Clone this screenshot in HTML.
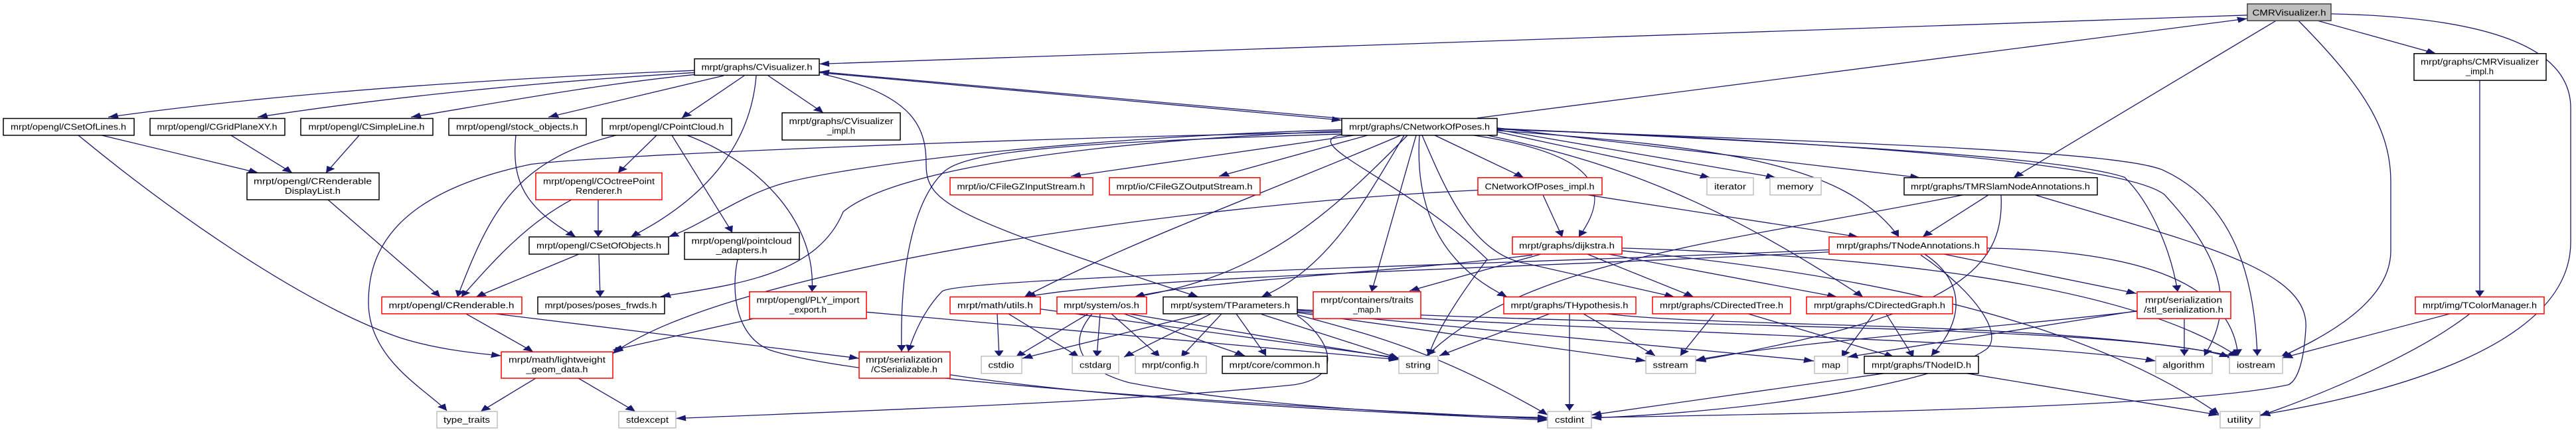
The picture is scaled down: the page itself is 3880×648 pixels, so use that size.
<!DOCTYPE html>
<html><head><meta charset="utf-8"><style>
html,body{margin:0;padding:0;background:#fff;overflow:hidden;}
svg{display:block;}
text{font-family:"Liberation Sans","DejaVu Sans",sans-serif;font-size:20px;fill:#000;}
.e{fill:none;stroke:#191970;stroke-width:1.3;marker-end:url(#a);vector-effect:non-scaling-stroke;}
.n{fill:#fff;stroke:#000;stroke-width:1.5;vector-effect:non-scaling-stroke;}
.r{fill:#fff;stroke:#ff0000;stroke-width:1.5;vector-effect:non-scaling-stroke;}
.g{fill:#fff;stroke:#bfbfbf;stroke-width:1.5;vector-effect:non-scaling-stroke;}
</style></head><body>
<svg width="3880" height="648" viewBox="0 0 3880 648" xmlns="http://www.w3.org/2000/svg">
<defs><marker id="a" markerUnits="userSpaceOnUse" markerWidth="16" markerHeight="14" refX="15" refY="7" orient="auto"><path d="M0,0 L15,7 L0,14 z" fill="#191970"/></marker></defs>
<g transform="scale(1,0.6514)">
<g>
<path class="e" d="M3385,35 L1234,148"/>
<path class="e" d="M2225,273 L3385,43"/>
<path class="e" d="M3428,48 L3033,411"/>
<path class="e" d="M3462,48 C3560,200 3601,300 3601,420 L3601,580 C3601,700 3500,780 3435,826"/>
<path class="e" d="M3491,48 L3669,124"/>
<path class="e" d="M3511,32 C3750,40 3872,110 3872,250 L3872,560 C3872,800 3600,910 3404,960"/>
<path class="e" d="M3735,186 L3735,687"/>
<path class="e" d="M3690,726 L3438,828"/>
<path class="e" d="M3720,726 C3650,810 3520,900 3404,962"/>
<path class="e" d="M1046,163 C700,185 400,220 163,271"/>
<path class="e" d="M1046,168 C800,190 560,230 388,271"/>
<path class="e" d="M1050,172 C900,195 760,235 619,271"/>
<path class="e" d="M1090,175 L826,271"/>
<path class="e" d="M1121,175 L1027,273"/>
<path class="e" d="M1157,175 L1240,261"/>
<path class="e" d="M1139,175 C1130,350 1050,470 950,548"/>
<path class="e" d="M1234,168 L2021,278"/>
<path class="e" d="M2021,274 L1234,166"/>
<path class="e" d="M1240,172 C1380,220 1395,300 1395,380 C1395,470 1430,500 1805,687"/>
<path class="e" d="M153,313 L389,400"/>
<path class="e" d="M118,313 C250,480 450,700 600,780 C650,805 700,815 755,823"/>
<path class="e" d="M348,313 L440,400"/>
<path class="e" d="M541,313 L491,400"/>
<path class="e" d="M777,313 C770,420 790,480 867,548"/>
<path class="e" d="M928,313 C780,370 740,480 689,687"/>
<path class="e" d="M989,313 L931,400"/>
<path class="e" d="M1012,313 L1103,538"/>
<path class="e" d="M1035,313 C1150,380 1230,520 1223,675"/>
<path class="e" d="M901,462 L901,548"/>
<path class="e" d="M861,462 C790,520 740,610 695,687"/>
<path class="e" d="M494,462 L663,687"/>
<path class="e" d="M872,588 L717,687"/>
<path class="e" d="M902,588 L904,687"/>
<path class="e" d="M702,726 L803,814"/>
<path class="e" d="M746,726 L1294,829"/>
<path class="e" d="M807,875 L724,952"/>
<path class="e" d="M871,875 L957,952"/>
<path class="e" d="M1111,600 C1100,680 1110,780 1160,810 C1300,880 1900,940 2331,969"/>
<path class="e" d="M1135,737 L923,810"/>
<path class="e" d="M1305,722 L2107,832"/>
<path class="e" d="M1431,867 C1700,930 2100,955 2331,972"/>
<path class="e" d="M2021,300 C1600,320 1300,380 1190,420 C1120,445 1060,520 1007,548"/>
<path class="e" d="M2021,303 C1600,330 1340,400 1270,490 C1230,640 1100,660 995,686"/>
<path class="e" d="M2021,306 C1500,320 900,360 800,380 C580,450 555,600 555,700 C555,830 640,900 673,950"/>
<path class="e" d="M2040,313 L1613,408"/>
<path class="e" d="M2060,313 L1836,408"/>
<path class="e" d="M2110,313 C1900,450 1700,560 1543,687"/>
<path class="e" d="M2120,313 C2000,500 1900,640 1709,687"/>
<path class="e" d="M2021,310 C1600,330 1450,350 1420,400 C1380,460 1355,600 1358,813"/>
<path class="e" d="M2115,313 C2050,480 2000,620 1900,687"/>
<path class="e" d="M2133,313 L2066,675"/>
<path class="e" d="M2138,313 C2130,500 2180,620 2270,687"/>
<path class="e" d="M2142,313 C2180,450 2220,590 2300,610 L2522,687"/>
<path class="e" d="M2161,313 L2295,411"/>
<path class="e" d="M2219,313 C2380,350 2440,420 2378,548"/>
<path class="e" d="M2240,313 C2450,380 2600,480 2806,687"/>
<path class="e" d="M2255,305 L2576,411"/>
<path class="e" d="M2255,300 L2675,411"/>
<path class="e" d="M2255,296 L2892,411"/>
<path class="e" d="M2255,302 C2600,340 2780,380 2860,548"/>
<path class="e" d="M2255,297 C2700,330 3100,360 3200,410 C3240,470 3270,580 3280,675"/>
<path class="e" d="M2255,298 C2800,330 3200,380 3260,450 C3320,550 3380,680 3320,823"/>
<path class="e" d="M2255,299 C2800,330 3200,350 3260,395 C3350,460 3395,600 3400,823"/>
<path class="e" d="M2021,312 C1950,330 2120,420 2240,600 C2190,700 2160,780 2152,823"/>
<path class="e" d="M2226,440 C1800,470 1100,620 923,818"/>
<path class="e" d="M2324,451 L2353,548"/>
<path class="e" d="M2391,451 L2799,548"/>
<path class="e" d="M2995,451 L2896,548"/>
<path class="e" d="M2957,451 C2600,560 2300,600 2149,823"/>
<path class="e" d="M3014,451 C3020,620 2950,730 2554,835"/>
<path class="e" d="M3065,451 C3300,560 3480,620 3473,760 C3470,840 3460,880 3447,890 C3300,940 2800,955 2397,966"/>
<path class="e" d="M2928,588 L3218,679"/>
<path class="e" d="M2993,574 C3200,580 3360,640 3371,823"/>
<path class="e" d="M2899,588 C2960,650 2960,740 2909,823"/>
<path class="e" d="M2893,590 C2980,680 3020,780 2990,810 C2900,900 2600,955 2397,967"/>
<path class="e" d="M2755,578 C2300,610 1450,640 1419,674 C1390,720 1375,780 1368,813"/>
<path class="e" d="M2755,583 C2300,620 1700,640 1545,687"/>
<path class="e" d="M2321,588 L2123,673"/>
<path class="e" d="M2308,590 C2100,630 1800,650 1709,687"/>
<path class="e" d="M2391,588 L2551,687"/>
<path class="e" d="M2423,588 L2767,687"/>
<path class="e" d="M2443,574 C2800,590 3200,650 3371,825"/>
<path class="e" d="M2443,580 C2700,620 3100,700 3342,958"/>
<path class="e" d="M2334,726 L2168,823"/>
<path class="e" d="M2364,726 L2364,950"/>
<path class="e" d="M2385,726 L2493,823"/>
<path class="e" d="M2420,726 C2600,760 3100,740 3371,826"/>
<path class="e" d="M2582,726 L2531,823"/>
<path class="e" d="M2633,726 L2853,826"/>
<path class="e" d="M2822,726 L2774,826"/>
<path class="e" d="M2841,726 L2882,826"/>
<path class="e" d="M2837,864 L2397,960"/>
<path class="e" d="M2963,864 L3342,960"/>
<path class="e" d="M3290,737 L3290,823"/>
<path class="e" d="M3219,719 L2783,826"/>
<path class="e" d="M1502,726 L1505,826"/>
<path class="e" d="M1519,726 L1625,826"/>
<path class="e" d="M1567,715 L2107,828"/>
<path class="e" d="M1639,726 L1530,826"/>
<path class="e" d="M1657,726 L1652,826"/>
<path class="e" d="M1674,726 L1747,826"/>
<path class="e" d="M1693,726 L1875,823"/>
<path class="e" d="M1645,726 C1610,790 1620,850 1700,885 C1850,930 2100,960 2331,966"/>
<path class="e" d="M1700,726 L2107,830"/>
<path class="e" d="M1811,726 L1540,829"/>
<path class="e" d="M1824,726 L1693,826"/>
<path class="e" d="M1840,726 L1779,826"/>
<path class="e" d="M1862,726 L1907,823"/>
<path class="e" d="M1954,730 C2000,780 2030,870 1950,890 C1700,930 1300,950 1018,968"/>
<path class="e" d="M1900,727 L2107,829"/>
<path class="e" d="M1954,723 L2479,835"/>
<path class="e" d="M1954,721 L2732,835"/>
<path class="e" d="M1954,718 C2400,770 3000,780 3247,835"/>
<path class="e" d="M1954,716 C2500,760 3200,750 3358,826"/>
<path class="e" d="M1954,728 C2050,770 2150,800 2331,960"/>
<path class="e" d="M3219,720 C3000,760 2700,790 2554,833"/>
</g>
<g>
<rect x="3385" y="9" width="126" height="39" fill="#bfbfbf" stroke="#404040" stroke-width="1.5" vector-effect="non-scaling-stroke"/>
<text x="3448" y="36" text-anchor="middle" textLength="111" lengthAdjust="spacingAndGlyphs">CMRVisualizer.h</text>
<rect class="n" x="1046" y="136" width="188" height="38"/><text x="1140" y="162" text-anchor="middle" textLength="167" lengthAdjust="spacingAndGlyphs">mrpt/graphs/CVisualizer.h</text>
<rect class="n" x="5" y="274" width="197" height="39"/><text x="103" y="300" text-anchor="middle" textLength="174" lengthAdjust="spacingAndGlyphs">mrpt/opengl/CSetOfLines.h</text>
<rect class="n" x="226" y="274" width="203" height="39"/><text x="327" y="300" text-anchor="middle" textLength="181" lengthAdjust="spacingAndGlyphs">mrpt/opengl/CGridPlaneXY.h</text>
<rect class="n" x="453" y="274" width="199" height="39"/><text x="552" y="300" text-anchor="middle" textLength="175" lengthAdjust="spacingAndGlyphs">mrpt/opengl/CSimpleLine.h</text>
<rect class="n" x="676" y="274" width="207" height="39"/><text x="779" y="300" text-anchor="middle" textLength="184" lengthAdjust="spacingAndGlyphs">mrpt/opengl/stock_objects.h</text>
<rect class="n" x="907" y="274" width="195" height="39"/><text x="1004" y="300" text-anchor="middle" textLength="173" lengthAdjust="spacingAndGlyphs">mrpt/opengl/CPointCloud.h</text>
<rect class="n" x="1178" y="261" width="178" height="63"/><text x="1267" y="287" text-anchor="middle" textLength="157" lengthAdjust="spacingAndGlyphs">mrpt/graphs/CVisualizer</text><text x="1267" y="309" text-anchor="middle" textLength="42" lengthAdjust="spacingAndGlyphs">_impl.h</text>
<rect class="n" x="2021" y="274" width="234" height="39"/><text x="2138" y="300" text-anchor="middle" textLength="212" lengthAdjust="spacingAndGlyphs">mrpt/graphs/CNetworkOfPoses.h</text>
<rect class="n" x="3636" y="124" width="199" height="62"/><text x="3735" y="150" text-anchor="middle" textLength="178" lengthAdjust="spacingAndGlyphs">mrpt/graphs/CMRVisualizer</text><text x="3735" y="172" text-anchor="middle" textLength="42" lengthAdjust="spacingAndGlyphs">_impl.h</text>
<rect class="n" x="372" y="400" width="199" height="62"/><text x="471" y="426" text-anchor="middle" textLength="178" lengthAdjust="spacingAndGlyphs">mrpt/opengl/CRenderable</text><text x="471" y="448" text-anchor="middle" textLength="84" lengthAdjust="spacingAndGlyphs">DisplayList.h</text>
<rect class="r" x="807" y="400" width="190" height="62"/><text x="902" y="426" text-anchor="middle" textLength="168" lengthAdjust="spacingAndGlyphs">mrpt/opengl/COctreePoint</text><text x="902" y="448" text-anchor="middle" textLength="70" lengthAdjust="spacingAndGlyphs">Renderer.h</text>
<rect class="r" x="1431" y="411" width="215" height="40"/><text x="1538" y="438" text-anchor="middle" textLength="193" lengthAdjust="spacingAndGlyphs">mrpt/io/CFileGZInputStream.h</text>
<rect class="r" x="1671" y="411" width="227" height="40"/><text x="1784" y="438" text-anchor="middle" textLength="205" lengthAdjust="spacingAndGlyphs">mrpt/io/CFileGZOutputStream.h</text>
<rect class="r" x="2226" y="411" width="187" height="40"/><text x="2319" y="438" text-anchor="middle" textLength="165" lengthAdjust="spacingAndGlyphs">CNetworkOfPoses_impl.h</text>
<rect class="g" x="2571" y="411" width="70" height="40"/><text x="2606" y="438" text-anchor="middle" textLength="48" lengthAdjust="spacingAndGlyphs">iterator</text>
<rect class="g" x="2666" y="411" width="77" height="40"/><text x="2704" y="438" text-anchor="middle" textLength="55" lengthAdjust="spacingAndGlyphs">memory</text>
<rect class="n" x="2868" y="411" width="291" height="40"/><text x="3013" y="438" text-anchor="middle" textLength="270" lengthAdjust="spacingAndGlyphs">mrpt/graphs/TMRSlamNodeAnnotations.h</text>
<rect class="n" x="797" y="548" width="210" height="40"/><text x="902" y="575" text-anchor="middle" textLength="188" lengthAdjust="spacingAndGlyphs">mrpt/opengl/CSetOfObjects.h</text>
<rect class="n" x="1031" y="538" width="173" height="62"/><text x="1117" y="564" text-anchor="middle" textLength="151" lengthAdjust="spacingAndGlyphs">mrpt/opengl/pointcloud</text><text x="1117" y="586" text-anchor="middle" textLength="77" lengthAdjust="spacingAndGlyphs">_adapters.h</text>
<rect class="r" x="2278" y="548" width="165" height="40"/><text x="2360" y="575" text-anchor="middle" textLength="144" lengthAdjust="spacingAndGlyphs">mrpt/graphs/dijkstra.h</text>
<rect class="r" x="2755" y="548" width="238" height="40"/><text x="2874" y="575" text-anchor="middle" textLength="216" lengthAdjust="spacingAndGlyphs">mrpt/graphs/TNodeAnnotations.h</text>
<rect class="r" x="575" y="687" width="211" height="39"/><text x="680" y="713" text-anchor="middle" textLength="189" lengthAdjust="spacingAndGlyphs">mrpt/opengl/CRenderable.h</text>
<rect class="n" x="810" y="687" width="191" height="39"/><text x="905" y="713" text-anchor="middle" textLength="169" lengthAdjust="spacingAndGlyphs">mrpt/poses/poses_frwds.h</text>
<rect class="r" x="1129" y="675" width="176" height="62"/><text x="1217" y="701" text-anchor="middle" textLength="155" lengthAdjust="spacingAndGlyphs">mrpt/opengl/PLY_import</text><text x="1217" y="723" text-anchor="middle" textLength="56" lengthAdjust="spacingAndGlyphs">_export.h</text>
<rect class="r" x="1431" y="687" width="136" height="39"/><text x="1499" y="713" text-anchor="middle" textLength="114" lengthAdjust="spacingAndGlyphs">mrpt/math/utils.h</text>
<rect class="r" x="1592" y="687" width="135" height="39"/><text x="1659" y="713" text-anchor="middle" textLength="114" lengthAdjust="spacingAndGlyphs">mrpt/system/os.h</text>
<rect class="n" x="1752" y="687" width="202" height="39"/><text x="1853" y="713" text-anchor="middle" textLength="180" lengthAdjust="spacingAndGlyphs">mrpt/system/TParameters.h</text>
<rect class="r" x="1978" y="675" width="162" height="62"/><text x="2059" y="701" text-anchor="middle" textLength="140" lengthAdjust="spacingAndGlyphs">mrpt/containers/traits</text><text x="2059" y="723" text-anchor="middle" textLength="42" lengthAdjust="spacingAndGlyphs">_map.h</text>
<rect class="r" x="2265" y="687" width="199" height="39"/><text x="2364" y="713" text-anchor="middle" textLength="177" lengthAdjust="spacingAndGlyphs">mrpt/graphs/THypothesis.h</text>
<rect class="r" x="2489" y="687" width="208" height="39"/><text x="2593" y="713" text-anchor="middle" textLength="186" lengthAdjust="spacingAndGlyphs">mrpt/graphs/CDirectedTree.h</text>
<rect class="r" x="2721" y="687" width="220" height="39"/><text x="2831" y="713" text-anchor="middle" textLength="198" lengthAdjust="spacingAndGlyphs">mrpt/graphs/CDirectedGraph.h</text>
<rect class="r" x="3219" y="675" width="141" height="62"/><text x="3289" y="701" text-anchor="middle" textLength="116" lengthAdjust="spacingAndGlyphs">mrpt/serialization</text><text x="3289" y="723" text-anchor="middle" textLength="120" lengthAdjust="spacingAndGlyphs">/stl_serialization.h</text>
<rect class="r" x="3638" y="687" width="194" height="39"/><text x="3735" y="713" text-anchor="middle" textLength="172" lengthAdjust="spacingAndGlyphs">mrpt/img/TColorManager.h</text>
<rect class="r" x="755" y="814" width="168" height="61"/><text x="839" y="839" text-anchor="middle" textLength="146" lengthAdjust="spacingAndGlyphs">mrpt/math/lightweight</text><text x="839" y="861" text-anchor="middle" textLength="93" lengthAdjust="spacingAndGlyphs">_geom_data.h</text>
<rect class="r" x="1294" y="814" width="137" height="61"/><text x="1362" y="839" text-anchor="middle" textLength="116" lengthAdjust="spacingAndGlyphs">mrpt/serialization</text><text x="1362" y="861" text-anchor="middle" textLength="100" lengthAdjust="spacingAndGlyphs">/CSerializable.h</text>
<rect class="g" x="1478" y="824" width="61" height="40"/><text x="1508" y="851" text-anchor="middle" textLength="39" lengthAdjust="spacingAndGlyphs">cstdio</text>
<rect class="g" x="1615" y="824" width="70" height="40"/><text x="1650" y="851" text-anchor="middle" textLength="48" lengthAdjust="spacingAndGlyphs">cstdarg</text>
<rect class="g" x="1710" y="824" width="107" height="40"/><text x="1763" y="851" text-anchor="middle" textLength="86" lengthAdjust="spacingAndGlyphs">mrpt/config.h</text>
<rect class="n" x="1841" y="824" width="158" height="40"/><text x="1920" y="851" text-anchor="middle" textLength="137" lengthAdjust="spacingAndGlyphs">mrpt/core/common.h</text>
<rect class="g" x="2107" y="824" width="59" height="40"/><text x="2136" y="851" text-anchor="middle" textLength="38" lengthAdjust="spacingAndGlyphs">string</text>
<rect class="g" x="2479" y="824" width="75" height="40"/><text x="2516" y="851" text-anchor="middle" textLength="53" lengthAdjust="spacingAndGlyphs">sstream</text>
<rect class="g" x="2733" y="824" width="50" height="40"/><text x="2758" y="851" text-anchor="middle" textLength="28" lengthAdjust="spacingAndGlyphs">map</text>
<rect class="n" x="2808" y="824" width="172" height="40"/><text x="2894" y="851" text-anchor="middle" textLength="150" lengthAdjust="spacingAndGlyphs">mrpt/graphs/TNodeID.h</text>
<rect class="g" x="3247" y="824" width="85" height="40"/><text x="3289" y="851" text-anchor="middle" textLength="63" lengthAdjust="spacingAndGlyphs">algorithm</text>
<rect class="g" x="3358" y="824" width="80" height="40"/><text x="3398" y="851" text-anchor="middle" textLength="58" lengthAdjust="spacingAndGlyphs">iostream</text>
<rect class="g" x="658" y="952" width="91" height="38"/><text x="703" y="978" text-anchor="middle" textLength="70" lengthAdjust="spacingAndGlyphs">type_traits</text>
<rect class="g" x="932" y="952" width="86" height="38"/><text x="975" y="978" text-anchor="middle" textLength="64" lengthAdjust="spacingAndGlyphs">stdexcept</text>
<rect class="g" x="2331" y="952" width="66" height="38"/><text x="2364" y="978" text-anchor="middle" textLength="44" lengthAdjust="spacingAndGlyphs">cstdint</text>
<rect class="g" x="3344" y="952" width="60" height="38"/><text x="3374" y="978" text-anchor="middle" textLength="39" lengthAdjust="spacingAndGlyphs">utility</text>
</g>
</g>
</svg>
</body></html>
